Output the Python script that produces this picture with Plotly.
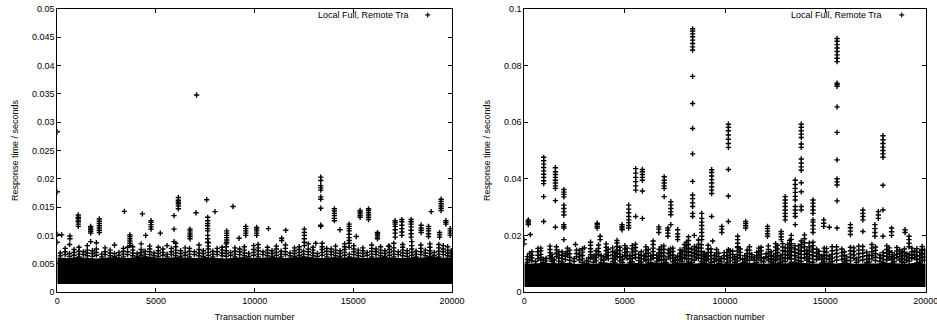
import plotly.graph_objects as go

# ---------------- data ----------------
x_tickvals = [0, 5000, 10000, 15000, 20000]
x_ticktext = ["0", "5000", "10000", "15000", "20000"]
left_tickvals = [0, 0.005, 0.01, 0.015, 0.02, 0.025, 0.03, 0.035, 0.04, 0.045, 0.05]
left_ticktext = ["0", "0.005", "0.01", "0.015", "0.02", "0.025", "0.03", "0.035", "0.04", "0.045", "0.05"]
right_tickvals = [0, 0.02, 0.04, 0.06, 0.08, 0.1]
right_ticktext = ["0", "0.02", "0.04", "0.06", "0.08", "0.1"]

series_name = "Local Full, Remote Tra"

# dense band of responses (lower / upper edge of the solid black region)
band_x = [0, 500, 1000, 1500, 2000, 2500, 3000, 3500, 4000, 4500, 5000, 5500, 6000, 6500,
          7000, 7500, 8000, 8500, 9000, 9500, 10000, 10500, 11000, 11500, 12000, 12500,
          13000, 13500, 14000, 14500, 15000, 15500, 16000, 16500, 17000, 17500, 18000,
          18500, 19000, 19500, 20000]
left_band_low = [0.0014] * 41
left_band_high = [0.0061, 0.0060, 0.0062, 0.0061, 0.0059, 0.0061, 0.0062, 0.0060, 0.0061, 0.0063,
                  0.0061, 0.0060, 0.0062, 0.0061, 0.0060, 0.0062, 0.0061, 0.0059, 0.0061, 0.0062,
                  0.0060, 0.0061, 0.0062, 0.0060, 0.0061, 0.0063, 0.0061, 0.0060, 0.0062, 0.0061,
                  0.0062, 0.0060, 0.0061, 0.0062, 0.0061, 0.0060, 0.0062, 0.0061, 0.0063, 0.0061, 0.0061]
right_band_low = [0.0018] * 41
right_band_high = [0.0102, 0.0100, 0.0104, 0.0101, 0.0103, 0.0099, 0.0102, 0.0100, 0.0104, 0.0102,
                   0.0100, 0.0103, 0.0101, 0.0105, 0.0102, 0.0100, 0.0104, 0.0101, 0.0103, 0.0099,
                   0.0102, 0.0101, 0.0104, 0.0102, 0.0100, 0.0103, 0.0101, 0.0105, 0.0102, 0.0100,
                   0.0103, 0.0101, 0.0104, 0.0099, 0.0102, 0.0101, 0.0103, 0.0102, 0.0100, 0.0103, 0.0101]

# fuzzy upper fringe of the dense band (left panel): transaction number, responses
left_fringe_x = [150, 400, 620, 850, 1100, 1320, 1520, 1780, 1980, 2250, 2420, 2680, 2900, 3120,
                 3350, 3560, 3820, 4050, 4250, 4450, 4680, 4900, 5120, 5350, 5560, 5780, 6000,
                 6250, 6480, 6700, 6950, 7180, 7400, 7650, 7880, 8100, 8350, 8560, 8780, 9000,
                 9240, 9480, 9700, 9950, 10180, 10420, 10650, 10880, 11100, 11340, 11560, 11800,
                 12020, 12260, 12480, 12720, 12960, 13180, 13420, 13650, 13880, 14100, 14330,
                 14560, 14800, 15020, 15250, 15480, 15700, 15930, 16150, 16380, 16600, 16830,
                 17050, 17280, 17500, 17730, 17960, 18180, 18420, 18650, 18880, 19100, 19330,
                 19560, 19780, 19960]
left_fringe_y = [
    [0.0064, 0.0069], [0.0066, 0.0071, 0.0077], [0.0063, 0.0068, 0.0084], [0.0065, 0.0070, 0.0075],
    [0.0062, 0.0067, 0.0072, 0.0079], [0.0066, 0.0071], [0.0064, 0.0069, 0.0074, 0.0082],
    [0.0063, 0.0068, 0.0073], [0.0065, 0.0070, 0.0076, 0.0087], [0.0062, 0.0067],
    [0.0066, 0.0071, 0.0078], [0.0064, 0.0069, 0.0074], [0.0063, 0.0068, 0.0083], [0.0065, 0.0070],
    [0.0062, 0.0067, 0.0072, 0.0077], [0.0066, 0.0071, 0.0079], [0.0064, 0.0069, 0.0074, 0.0080],
    [0.0063, 0.0068], [0.0065, 0.0070, 0.0075, 0.0085], [0.0062, 0.0067, 0.0072],
    [0.0066, 0.0071, 0.0076, 0.0081], [0.0064, 0.0069], [0.0063, 0.0068, 0.0073, 0.0079],
    [0.0065, 0.0070, 0.0076], [0.0062, 0.0067, 0.0082], [0.0066, 0.0071, 0.0077],
    [0.0064, 0.0069, 0.0074, 0.0080, 0.0086], [0.0063, 0.0068, 0.0073], [0.0065, 0.0070, 0.0078],
    [0.0062, 0.0067, 0.0072, 0.0077], [0.0066, 0.0071], [0.0064, 0.0069, 0.0075, 0.0083],
    [0.0063, 0.0068, 0.0073], [0.0065, 0.0070, 0.0076, 0.0081, 0.0087], [0.0062, 0.0067, 0.0072],
    [0.0066, 0.0071, 0.0077], [0.0064, 0.0069, 0.0074, 0.0079], [0.0063, 0.0068, 0.0073, 0.0080, 0.0085],
    [0.0065, 0.0070], [0.0062, 0.0067, 0.0072, 0.0078], [0.0066, 0.0071, 0.0076],
    [0.0064, 0.0069, 0.0074, 0.0080], [0.0063, 0.0068], [0.0065, 0.0070, 0.0075, 0.0082],
    [0.0062, 0.0067, 0.0073, 0.0078, 0.0084], [0.0066, 0.0071], [0.0064, 0.0069, 0.0074, 0.0079],
    [0.0063, 0.0068, 0.0073], [0.0065, 0.0070, 0.0076, 0.0081], [0.0062, 0.0067, 0.0072],
    [0.0066, 0.0071, 0.0077, 0.0083], [0.0064, 0.0069], [0.0063, 0.0068, 0.0073, 0.0078],
    [0.0065, 0.0070, 0.0075, 0.0080], [0.0062, 0.0067, 0.0072], [0.0066, 0.0071, 0.0076, 0.0085],
    [0.0064, 0.0069, 0.0074, 0.0079], [0.0063, 0.0068], [0.0065, 0.0070, 0.0075, 0.0080, 0.0086],
    [0.0062, 0.0067, 0.0072, 0.0077], [0.0066, 0.0071, 0.0076], [0.0064, 0.0069, 0.0074, 0.0081],
    [0.0063, 0.0068, 0.0073], [0.0065, 0.0070, 0.0075, 0.0080, 0.0085], [0.0062, 0.0067],
    [0.0066, 0.0071, 0.0076, 0.0082], [0.0064, 0.0069, 0.0074], [0.0063, 0.0068, 0.0073, 0.0078],
    [0.0065, 0.0070], [0.0062, 0.0067, 0.0072, 0.0077, 0.0083], [0.0066, 0.0071, 0.0076],
    [0.0064, 0.0069, 0.0074, 0.0080], [0.0063, 0.0068, 0.0073], [0.0065, 0.0070, 0.0075, 0.0081],
    [0.0062, 0.0067, 0.0072, 0.0078, 0.0086], [0.0066, 0.0071], [0.0064, 0.0069, 0.0074, 0.0079, 0.0084],
    [0.0063, 0.0068, 0.0073], [0.0065, 0.0070, 0.0076, 0.0082, 0.0089], [0.0062, 0.0067, 0.0072],
    [0.0066, 0.0071, 0.0077, 0.0083], [0.0064, 0.0069, 0.0074], [0.0063, 0.0068, 0.0073, 0.0079, 0.0085],
    [0.0065, 0.0070], [0.0062, 0.0067, 0.0072, 0.0078, 0.0084], [0.0066, 0.0071, 0.0076, 0.0082],
    [0.0064, 0.0069, 0.0074, 0.0080], [0.0063, 0.0068, 0.0073],
]

# outlier stacks (left panel)
left_stack_x = [0, 220, 640, 1065, 1690, 2130, 3400, 3680, 4310, 4480, 4750, 5220, 5915, 6135,
                6725, 7030, 7058, 7570, 7620, 7990, 8585, 8905, 9210, 9550, 10100, 10700, 11370,
                11575, 12520, 13100, 13350, 14040, 14320, 14790, 15150, 15345, 15770, 16225,
                16780, 17120, 17460, 17930, 18440, 18810, 18945, 19370, 19450, 19690, 19910]
left_stack_y = [
    [0.0283, 0.0177, 0.0102, 0.0088],
    [0.0101],
    [0.0099, 0.0094],
    [0.0116, 0.0120, 0.0124, 0.0127, 0.0130, 0.0132, 0.0136],
    [0.0089, 0.0104, 0.0107, 0.0110, 0.0113, 0.0116],
    [0.0105, 0.0109, 0.0113, 0.0117, 0.0121, 0.0125, 0.0129],
    [0.01425],
    [0.0082, 0.0086, 0.0090, 0.0094, 0.0098, 0.0101],
    [0.0138],
    [0.0100],
    [0.0111, 0.0115, 0.0119, 0.0123, 0.0126],
    [0.0104],
    [0.0089, 0.0111, 0.0135],
    [0.0147, 0.0152, 0.0156, 0.0159, 0.0162, 0.0167],
    [0.0094, 0.0098, 0.0101, 0.0104, 0.0108, 0.0111],
    [0.0140],
    [0.0348],
    [0.0163],
    [0.0088, 0.0094, 0.0100, 0.0108, 0.0112, 0.0117, 0.0121, 0.0126, 0.0132],
    [0.0142],
    [0.0088, 0.0092, 0.0096, 0.0100, 0.0104, 0.0108],
    [0.0151],
    [0.0095],
    [0.0100, 0.0104, 0.0108, 0.0112, 0.0116],
    [0.0100, 0.0104, 0.0108, 0.0111, 0.0114],
    [0.0112],
    [0.0091, 0.0095],
    [0.0109],
    [0.0082, 0.0088, 0.0094, 0.0100, 0.0105, 0.0111],
    [0.0086],
    [0.0116, 0.0118, 0.0148, 0.0164, 0.0168, 0.0180, 0.0184, 0.0188, 0.0197, 0.0203],
    [0.0126, 0.0130, 0.0135, 0.0139, 0.0143, 0.0147],
    [0.0110],
    [0.0079, 0.0086, 0.0091, 0.0096, 0.0102, 0.0108, 0.0112, 0.0116, 0.0120],
    [0.0098],
    [0.0132, 0.0135, 0.0138, 0.0141, 0.0144],
    [0.0128, 0.0132, 0.0136, 0.0140, 0.0144, 0.0147],
    [0.0094, 0.0097, 0.0100, 0.0103, 0.0105],
    [0.0081],
    [0.0097, 0.0104, 0.0110, 0.0116, 0.0120, 0.0123, 0.0126],
    [0.0100, 0.0106, 0.0112, 0.0118, 0.0124, 0.0128],
    [0.0097, 0.0103, 0.0109, 0.0115, 0.0120, 0.0124, 0.0128],
    [0.0105, 0.0109, 0.0113, 0.0118],
    [0.0098, 0.0103, 0.0108, 0.0112, 0.0116],
    [0.0142],
    [0.0097, 0.0101, 0.0105],
    [0.0144, 0.0148, 0.0152, 0.0156, 0.0160, 0.0164],
    [0.0120, 0.0123, 0.0126],
    [0.0100, 0.0104, 0.0108, 0.0112],
]

# fuzzy upper fringe of the dense band (right panel)
right_fringe_x = [150, 380, 560, 820, 1080, 1280, 1480, 1720, 2050, 2260, 2480, 2740, 3100, 3300,
                  3450, 3700, 3960, 4180, 4400, 4620, 4900, 5120, 5380, 5700, 5980, 6180, 6420,
                  6600, 6830, 7070, 7280, 7520, 7760, 7980, 8180, 8480, 8680, 8960, 9160, 9470,
                  9680, 9960, 10260, 10480, 10760, 10980, 11220, 11460, 11680, 11930, 12160,
                  12420, 12620, 12870, 13120, 13300, 13660, 13960, 14200, 14560, 14820, 15060,
                  15340, 15820, 16060, 16420, 16660, 17060, 17320, 17720, 18060, 18320, 18560,
                  18820, 19060, 19310, 19560, 19820]
right_fringe_y = [
    [0.0105, 0.0115, 0.0125], [0.0110, 0.0120, 0.0130, 0.0142], [0.0098, 0.0108],
    [0.0112, 0.0122, 0.0133, 0.0146, 0.0155], [0.0100, 0.0110, 0.0119],
    [0.0118, 0.0128, 0.0139, 0.0150, 0.0162], [0.0102, 0.0113], [0.0109, 0.0120, 0.0131, 0.0143],
    [0.0115, 0.0126, 0.0136], [0.0101, 0.0112, 0.0123, 0.0135, 0.0148], [0.0108, 0.0118],
    [0.0113, 0.0124, 0.0134, 0.0147], [0.0099, 0.0110],
    [0.0121, 0.0132, 0.0142, 0.0153, 0.0165, 0.0176], [0.0105, 0.0116, 0.0127],
    [0.0131, 0.0142, 0.0154, 0.0166], [0.0102, 0.0112, 0.0124], [0.0117, 0.0128, 0.0139, 0.0151],
    [0.0108, 0.0119, 0.0131, 0.0143, 0.0156], [0.0125, 0.0137, 0.0149, 0.0161, 0.0173, 0.0182],
    [0.0104, 0.0115, 0.0126], [0.0119, 0.0130, 0.0142, 0.0155],
    [0.0107, 0.0118, 0.0129, 0.0141, 0.0152, 0.0164], [0.0111, 0.0122, 0.0133], [0.0116, 0.0127],
    [0.0103, 0.0114, 0.0126, 0.0138, 0.0150], [0.0120, 0.0131, 0.0143, 0.0155, 0.0168, 0.0180],
    [0.0109, 0.0120, 0.0131], [0.0112, 0.0124, 0.0136, 0.0148, 0.0160], [0.0104, 0.0115],
    [0.0118, 0.0129, 0.0141, 0.0152], [0.0100, 0.0111, 0.0122], [0.0114, 0.0125, 0.0137, 0.0149],
    [0.0121, 0.0132, 0.0144, 0.0156, 0.0168],
    [0.0106, 0.0118, 0.0130, 0.0142, 0.0155, 0.0168, 0.0182, 0.0195],
    [0.0112, 0.0124, 0.0136, 0.0149, 0.0161], [0.0119, 0.0131, 0.0143, 0.0156, 0.0169, 0.0184],
    [0.0103, 0.0114, 0.0126, 0.0138], [0.0115, 0.0127, 0.0139, 0.0152, 0.0165],
    [0.0108, 0.0119, 0.0130], [0.0101, 0.0113, 0.0125, 0.0137], [0.0117, 0.0128, 0.0139],
    [0.0110, 0.0122, 0.0134, 0.0146], [0.0104, 0.0115, 0.0126], [0.0118, 0.0129, 0.0140, 0.0152],
    [0.0106, 0.0117, 0.0128], [0.0112, 0.0124, 0.0136, 0.0148, 0.0160], [0.0101, 0.0112, 0.0123],
    [0.0120, 0.0131, 0.0143, 0.0155], [0.0107, 0.0118], [0.0113, 0.0125, 0.0137, 0.0150, 0.0163],
    [0.0102, 0.0114, 0.0126], [0.0116, 0.0128, 0.0140, 0.0152, 0.0165],
    [0.0109, 0.0121, 0.0133, 0.0146, 0.0159, 0.0171], [0.0118, 0.0130, 0.0142, 0.0155, 0.0168],
    [0.0105, 0.0117, 0.0130, 0.0143, 0.0157, 0.0171, 0.0186, 0.0200],
    [0.0111, 0.0123, 0.0136, 0.0149, 0.0163],
    [0.0120, 0.0133, 0.0146, 0.0160, 0.0174, 0.0188, 0.0202],
    [0.0107, 0.0119, 0.0132, 0.0145, 0.0159, 0.0173], [0.0114, 0.0126, 0.0138, 0.0151],
    [0.0103, 0.0115, 0.0127], [0.0117, 0.0129, 0.0141, 0.0154],
    [0.0108, 0.0120, 0.0133, 0.0146, 0.0160], [0.0115, 0.0127, 0.0139, 0.0152],
    [0.0101, 0.0112, 0.0124], [0.0119, 0.0131, 0.0143, 0.0156],
    [0.0110, 0.0122, 0.0135, 0.0148, 0.0162], [0.0104, 0.0116, 0.0128, 0.0141],
    [0.0117, 0.0129, 0.0142, 0.0155, 0.0168], [0.0108, 0.0120, 0.0131],
    [0.0113, 0.0125, 0.0137, 0.0150, 0.0163], [0.0102, 0.0114, 0.0126, 0.0139],
    [0.0121, 0.0133, 0.0145, 0.0157], [0.0106, 0.0118, 0.0130, 0.0143], [0.0112, 0.0124, 0.0135],
    [0.0118, 0.0130, 0.0142, 0.0155], [0.0103, 0.0115, 0.0127, 0.0140, 0.0153],
    [0.0111, 0.0123, 0.0135, 0.0148, 0.0161],
]

# second row of fringe stacks between the first ones (right panel)
right_fringe2_x = [260, 680, 950, 1380, 1600, 1880, 2150, 2600, 2900, 3200, 3580, 3830, 4080,
                   4520, 4760, 5010, 5260, 5540, 5830, 6060, 6300, 6720, 6950, 7180, 7400, 7640,
                   7860, 8080, 8330, 8580, 8820, 9060, 9300, 9580, 9820, 10100, 10380, 10620,
                   10880, 11100, 11340, 11580, 11800, 12050, 12300, 12520, 12750, 13000, 13220,
                   13480, 13800, 14080, 14380, 14680, 14940, 15200, 15560, 15950, 16250, 16540,
                   16860, 17180, 17500, 17880, 18180, 18440, 18700, 18940, 19180, 19440, 19700,
                   19940]
right_fringe2_y = [
    [0.0112, 0.0124, 0.0136], [0.0118, 0.0130, 0.0142, 0.0154], [0.0104, 0.0116],
    [0.0108, 0.0120, 0.0132], [0.0125, 0.0137, 0.0149, 0.0160], [0.0106, 0.0118, 0.0130, 0.0142],
    [0.0131, 0.0143, 0.0155], [0.0124, 0.0136, 0.0148], [0.0105, 0.0117, 0.0129, 0.0141, 0.0153],
    [0.0108, 0.0120], [0.0110, 0.0122, 0.0134, 0.0146], [0.0104, 0.0116, 0.0128],
    [0.0122, 0.0134, 0.0146, 0.0158, 0.0170], [0.0103, 0.0115, 0.0127, 0.0139],
    [0.0110, 0.0122, 0.0134, 0.0146, 0.0158], [0.0128, 0.0140, 0.0152, 0.0164],
    [0.0104, 0.0116, 0.0128], [0.0121, 0.0133, 0.0145, 0.0157, 0.0169],
    [0.0106, 0.0118, 0.0130, 0.0142], [0.0112, 0.0124, 0.0136, 0.0148, 0.0160],
    [0.0104, 0.0116, 0.0128], [0.0115, 0.0127, 0.0139, 0.0151],
    [0.0103, 0.0115, 0.0127, 0.0139, 0.0151, 0.0163], [0.0124, 0.0136, 0.0148],
    [0.0107, 0.0119, 0.0131, 0.0143, 0.0155], [0.0103, 0.0115, 0.0127],
    [0.0108, 0.0120, 0.0132, 0.0144], [0.0116, 0.0128, 0.0140, 0.0152, 0.0164, 0.0176],
    [0.0104, 0.0116, 0.0128, 0.0140, 0.0152], [0.0121, 0.0133, 0.0145, 0.0157],
    [0.0107, 0.0119, 0.0131, 0.0143, 0.0155, 0.0167], [0.0110, 0.0122, 0.0134],
    [0.0104, 0.0116, 0.0128, 0.0140, 0.0152], [0.0114, 0.0126, 0.0138, 0.0150],
    [0.0107, 0.0119], [0.0104, 0.0116, 0.0128, 0.0140], [0.0120, 0.0132, 0.0144],
    [0.0109, 0.0121, 0.0133, 0.0145, 0.0157], [0.0103, 0.0115], [0.0112, 0.0124, 0.0136, 0.0148],
    [0.0120, 0.0132], [0.0104, 0.0116, 0.0128, 0.0140], [0.0110, 0.0122, 0.0134, 0.0146, 0.0158],
    [0.0123, 0.0135], [0.0106, 0.0118, 0.0130, 0.0142],
    [0.0111, 0.0123, 0.0135, 0.0147, 0.0159, 0.0171], [0.0104, 0.0116, 0.0128],
    [0.0108, 0.0120, 0.0132, 0.0144, 0.0156], [0.0122, 0.0134, 0.0146, 0.0158, 0.0170, 0.0182],
    [0.0104, 0.0116, 0.0128, 0.0140, 0.0152, 0.0164],
    [0.0108, 0.0120, 0.0132, 0.0144, 0.0156, 0.0168, 0.0180], [0.0112, 0.0124, 0.0136, 0.0148],
    [0.0104, 0.0116, 0.0128, 0.0140, 0.0152, 0.0164, 0.0176], [0.0120, 0.0132, 0.0144],
    [0.0107, 0.0119, 0.0131, 0.0143, 0.0155], [0.0103, 0.0115, 0.0127],
    [0.0112, 0.0124, 0.0136, 0.0148, 0.0160], [0.0106, 0.0118, 0.0130, 0.0142],
    [0.0110, 0.0122, 0.0134, 0.0146, 0.0158], [0.0104, 0.0116],
    [0.0113, 0.0125, 0.0137, 0.0149, 0.0161], [0.0106, 0.0118, 0.0130],
    [0.0111, 0.0123, 0.0135, 0.0147, 0.0159], [0.0104, 0.0116, 0.0128, 0.0140],
    [0.0120, 0.0132, 0.0144, 0.0156], [0.0107, 0.0119, 0.0131], [0.0113, 0.0125, 0.0137, 0.0149],
    [0.0104, 0.0116, 0.0128, 0.0140, 0.0152], [0.0109, 0.0121, 0.0133], [0.0121, 0.0133, 0.0145],
    [0.0105, 0.0117, 0.0129, 0.0141], [0.0112, 0.0124, 0.0136, 0.0148],
]

# outlier stacks (right panel)
right_stack_x = [0, 200, 300, 965, 1550, 1970, 2550, 3000, 3635, 3780, 4870, 5200, 5550, 5885,
                 6700, 6970, 7150, 7300, 7640, 8385, 8470, 8840, 9335, 9385, 9840, 10170, 10630,
                 11030, 12120, 12800, 13000, 13500, 13800, 14385, 14920, 15200, 15585, 16250,
                 16870, 17470, 17640, 17870, 18300, 18970, 19170, 19830]
right_stack_y = [
    [0.017, 0.0185],
    [0.0238, 0.0244, 0.0250, 0.0255],
    [0.0203],
    [0.0249, 0.0337, 0.0383, 0.0393, 0.0405, 0.0416, 0.0428, 0.0440, 0.0452, 0.0464, 0.0476],
    [0.0229, 0.0323, 0.0366, 0.0375, 0.0385, 0.0395, 0.0405, 0.0415, 0.0425, 0.0439],
    [0.0185, 0.0226, 0.0232, 0.0238, 0.0272, 0.0283, 0.0295, 0.0307, 0.0336, 0.0345, 0.0353, 0.0362],
    [0.0168],
    [0.0156],
    [0.0226, 0.0232, 0.0238, 0.0243],
    [0.0185, 0.0197],
    [0.0220, 0.0226, 0.0232, 0.0238],
    [0.0226, 0.0235, 0.0245, 0.0255, 0.0267, 0.0280, 0.0293, 0.0307],
    [0.0267, 0.0360, 0.0375, 0.0390, 0.0405, 0.0420, 0.0436],
    [0.0260, 0.0357, 0.0395, 0.0405, 0.0415, 0.0425, 0.0433],
    [0.0210, 0.0222, 0.0230],
    [0.0337, 0.0366, 0.0375, 0.0385, 0.0395, 0.0407],
    [0.0197, 0.0208, 0.0218, 0.0226],
    [0.0238, 0.0273, 0.0283, 0.0295, 0.0307, 0.0319],
    [0.0185, 0.0195, 0.0205, 0.0220],
    [0.0267, 0.0278, 0.0302, 0.0315, 0.0330, 0.0343, 0.0391, 0.0488, 0.0578, 0.0666, 0.0762,
     0.0855, 0.0866, 0.0878, 0.0890, 0.0902, 0.0912, 0.0922, 0.0930],
    [0.0200],
    [0.0185, 0.0197, 0.0210, 0.0222, 0.0235, 0.0247, 0.0260, 0.0278],
    [0.0267, 0.0348, 0.0360, 0.0372, 0.0385, 0.0397, 0.0410, 0.0422, 0.0432],
    [0.0180],
    [0.0210, 0.0222, 0.0232],
    [0.0150, 0.0249, 0.0339, 0.0433, 0.0511, 0.0525, 0.0540, 0.0555, 0.0570, 0.0582, 0.0593],
    [0.0160, 0.0172, 0.0185, 0.0197],
    [0.0226, 0.0234, 0.0242, 0.0249],
    [0.0197, 0.0206, 0.0215, 0.0224, 0.0232],
    [0.0185, 0.0195, 0.0205, 0.0214],
    [0.0255, 0.0267, 0.0278, 0.0290, 0.0302, 0.0314, 0.0325, 0.0337],
    [0.0238, 0.0267, 0.0278, 0.0290, 0.0302, 0.0325, 0.0338, 0.0352, 0.0366, 0.0380, 0.0395],
    [0.0290, 0.0302, 0.0354, 0.0386, 0.0430, 0.0442, 0.0455, 0.0470, 0.0511, 0.0523, 0.0546,
     0.0558, 0.0570, 0.0582, 0.0593],
    [0.0210, 0.0222, 0.0235, 0.0247, 0.0255, 0.0278, 0.0290, 0.0302, 0.0314, 0.0325],
    [0.0232, 0.0243, 0.0255],
    [0.0229],
    [0.0226, 0.0322, 0.0378, 0.0389, 0.0400, 0.0467, 0.0564, 0.0654, 0.0727, 0.0733, 0.0738,
     0.0814, 0.0826, 0.0838, 0.0850, 0.0862, 0.0874, 0.0886, 0.0896],
    [0.0203, 0.0215, 0.0227, 0.0238],
    [0.0214, 0.0255, 0.0267, 0.0278, 0.0290],
    [0.0197, 0.0210, 0.0224, 0.0238],
    [0.0260, 0.0272, 0.0284],
    [0.0197, 0.0290, 0.0377, 0.0476, 0.0488, 0.0500, 0.0512, 0.0525, 0.0538, 0.0552],
    [0.0200, 0.0213, 0.0226],
    [0.0210, 0.0220],
    [0.0160, 0.0172, 0.0185, 0.0197],
    [0.0150],
]


def expand(xs, ys_lists):
    ox, oy = [], []
    for x, ys in zip(xs, ys_lists):
        for y in ys:
            ox.append(x)
            oy.append(y)
    return ox, oy


FONT = "Liberation Sans, Arial, Helvetica, sans-serif"
MARK = dict(symbol="cross-thin", size=3.8, line=dict(color="black", width=1.4), color="black")

fig = go.Figure()


def add_panel(xa, ya, band_low, band_high, fringe_x, fringe_y, stack_x, stack_y):
    fig.add_trace(go.Scatter(x=band_x, y=band_low, mode="lines", line=dict(width=0, color="black"),
                             xaxis=xa, yaxis=ya, showlegend=False, hoverinfo="skip"))
    fig.add_trace(go.Scatter(x=band_x, y=band_high, mode="lines", fill="tonexty",
                             fillcolor="black", line=dict(width=0, color="black"),
                             xaxis=xa, yaxis=ya, showlegend=False, hoverinfo="skip"))
    fx, fy = expand(fringe_x, fringe_y)
    fig.add_trace(go.Scatter(x=fx, y=fy, mode="markers", marker=MARK,
                             xaxis=xa, yaxis=ya, showlegend=False, name=series_name))
    sx, sy = expand(stack_x, stack_y)
    fig.add_trace(go.Scatter(x=sx, y=sy, mode="markers", marker=MARK,
                             xaxis=xa, yaxis=ya, showlegend=False, name=series_name))


add_panel("x", "y", left_band_low, left_band_high, left_fringe_x, left_fringe_y,
          left_stack_x, left_stack_y)
add_panel("x2", "y2", right_band_low, right_band_high,
          right_fringe_x + right_fringe2_x, right_fringe_y + right_fringe2_y,
          right_stack_x, right_stack_y)

axis_common = dict(showline=True, linecolor="black", linewidth=1, mirror="ticks",
                   ticks="inside", ticklen=4, tickcolor="black", tickwidth=1,
                   showgrid=False, zeroline=False, automargin=False,
                   ticklabeloverflow="allow",
                   tickfont=dict(family=FONT, size=9, color="black"))

fig.update_layout(
    width=937, height=325,
    margin=dict(l=0, r=0, t=9, b=33),
    paper_bgcolor="white", plot_bgcolor="white",
    showlegend=False,
    font=dict(family=FONT, size=9, color="black"),
    xaxis=dict(domain=[57.3 / 937, 452 / 937], range=[0, 20000], tickvals=x_tickvals,
               ticktext=x_ticktext, title=dict(text="Transaction number", standoff=8,
                                               font=dict(family=FONT, size=9)),
               anchor="y", **axis_common),
    yaxis=dict(domain=[0, 1], range=[0, 0.05], tickvals=left_tickvals, ticktext=left_ticktext,
               title=dict(text="Response time / seconds", standoff=11,
                          font=dict(family=FONT, size=9)),
               anchor="x", **axis_common),
    xaxis2=dict(domain=[524.3 / 937, 925.7 / 937], range=[0, 20000], tickvals=x_tickvals,
                ticktext=x_ticktext, title=dict(text="Transaction number", standoff=8,
                                                font=dict(family=FONT, size=9)),
                anchor="y2", **axis_common),
    yaxis2=dict(domain=[0, 1], range=[0, 0.1], tickvals=right_tickvals, ticktext=right_ticktext,
                title=dict(text="Response time / seconds", standoff=11,
                           font=dict(family=FONT, size=9)),
                anchor="x2", **axis_common),
)

# key: label text plus a "+" sample drawn as two short strokes
for xd, yd, cx, hw in [("x domain", "y domain", 0.9384, 0.0064),
                       ("x2 domain", "y2 domain", 0.9402, 0.0063)]:
    fig.add_annotation(text=series_name, xref=xd, yref=yd, x=0.897, y=0.979,
                       xanchor="right", yanchor="middle", showarrow=False,
                       font=dict(family=FONT, size=9, color="black"))
    cy, hh = 0.979, 0.0088
    fig.add_shape(type="line", xref=xd, yref=yd, x0=cx - hw, x1=cx + hw, y0=cy, y1=cy,
                  line=dict(color="black", width=1.2))
    fig.add_shape(type="line", xref=xd, yref=yd, x0=cx, x1=cx, y0=cy - hh, y1=cy + hh,
                  line=dict(color="black", width=1.2))

fig.write_html("out.html", config={"displayModeBar": False},
               post_script="document.body.style.margin='0';")
